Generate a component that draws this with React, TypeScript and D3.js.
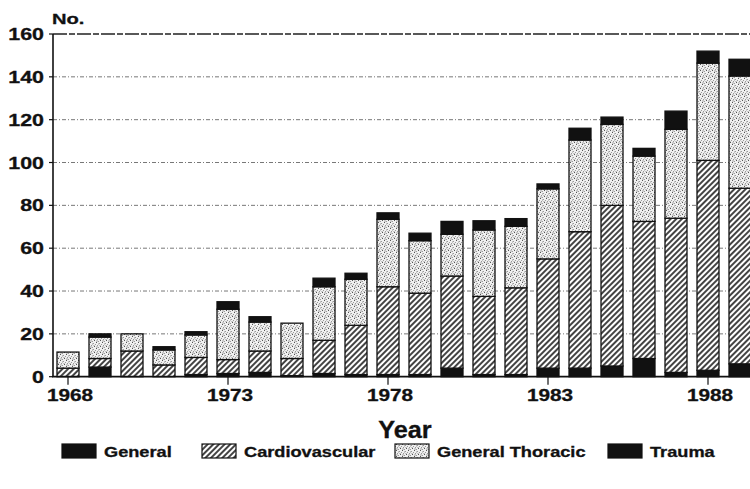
import * as d3 from "d3"

const years = d3.range(1968, 1990)
const general = [0, 4.5, 0, 0, 1, 1.5, 2, 0.5, 1.5, 1, 1, 1, 4, 1, 1, 4, 4, 5, 8.5, 2, 3, 6]
const cardiovascular = [4, 4, 12, 5.5, 8, 6.5, 10, 8, 15.5, 23, 41, 38, 43, 36.5, 40.5, 51, 63.7, 75, 64, 72, 98, 82]
const generalThoracic = [7.5, 10, 8, 7, 10.5, 23.5, 13.5, 16.5, 25, 21.5, 31.5, 24.5, 19.5, 31, 28.7, 32.7, 42.8, 37.8, 30.5, 41.5, 45.4, 52.4]
const trauma = [0, 1.5, 0, 1.5, 1.5, 3.5, 2.5, 0, 4, 2.8, 3, 3.5, 6, 4.3, 3.6, 2.3, 5.5, 3.4, 3.6, 8.5, 5.6, 7.8]
const seriesNames = ["General", "Cardiovascular", "General Thoracic", "Trauma"]
const yTicks = [0, 20, 40, 60, 80, 100, 120, 140, 160]
const xTickYears = [1968, 1973, 1978, 1983, 1988]

const W = 750
const H = 489
const FONT = "'Liberation Sans', Arial, Helvetica, sans-serif"
const STRETCH = 1.3

// fill per series, bottom to top
const fills = ["#111", "url(#hatch)", "url(#stipple)", "#111"]

// dot positions inside the 6x6 stipple tile
const stippleDots = [
  [0, 0], [3, 1], [1, 3], [4, 4], [5, 2], [2, 5], [0.5, 4.5], [3.5, 3], [2, 1.5],
]

export default function App() {
  const x = d3.scaleLinear().domain([1968, 1988]).range([68, 708])
  const y = d3.scaleLinear().domain([0, 160]).range([376.7, 34])
  const barW = 22

  const rows = years.map((yr, i) => ({
    year: yr,
    General: general[i],
    Cardiovascular: cardiovascular[i],
    "General Thoracic": generalThoracic[i],
    Trauma: trauma[i],
  }))
  const stacked = d3.stack<any>().keys(seriesNames)(rows)

  const legendX = [62, 202, 395, 608]

  // stretched bold text helper (the scanned type is wide)
  const label = (key: string, txt: string, tx: number, ty: number, size: number, anchor: string, sx = STRETCH) => (
    <text
      key={key}
      transform={`translate(${tx},${ty}) scale(${sx},1)`}
      textAnchor={anchor}
      fontSize={size}
      fontWeight="bold"
      fontFamily={FONT}
      fill="#111"
      stroke="#111"
      strokeWidth={0.3}
    >
      {txt}
    </text>
  )

  return (
    <div style={{ position: "absolute", left: 0, top: 0 }}>
      <svg width={W} height={H} style={{ display: "block", background: "#fff" }}>
        <defs>
          <pattern id="hatch" patternUnits="userSpaceOnUse" width="4" height="4" patternTransform="rotate(45)">
            <rect width="4" height="4" fill="#fff" />
            <line x1="1" y1="0" x2="1" y2="4" stroke="#222" strokeWidth="1.7" />
          </pattern>
          <pattern id="stipple" patternUnits="userSpaceOnUse" width="6" height="6">
            <rect width="6" height="6" fill="#f0f0f0" />
            {stippleDots.map(([dx, dy], k) => (
              <rect key={k} x={dx} y={dy} width="1" height="1" fill={k % 3 === 0 ? "#555" : "#999"} />
            ))}
          </pattern>
        </defs>

        {/* grid */}
        {yTicks.filter((t) => t > 0 && t < 160).map((t) => (
          <line key={"g" + t} x1={53} x2={W} y1={y(t)} y2={y(t)} stroke="#555" strokeWidth={0.8} strokeDasharray="4 2 1 2" />
        ))}
        <line x1={53} x2={W} y1={y(160)} y2={y(160)} stroke="#222" strokeWidth={1.4} strokeDasharray="14 2 6 2" />

        {/* bars */}
        {stacked.map((s, si) =>
          s.map((d, i) =>
            d[1] - d[0] > 0 ? (
              <rect
                key={si + "-" + i}
                x={x(years[i]) - barW / 2}
                y={y(d[1])}
                width={barW}
                height={y(d[0]) - y(d[1])}
                fill={fills[si]}
                stroke="#111"
                strokeWidth={1.3}
              />
            ) : null
          )
        )}

        {/* axes */}
        <line x1={53} x2={53} y1={y(160)} y2={y(0)} stroke="#111" strokeWidth={1.6} />
        <line x1={52} x2={W} y1={y(0)} y2={y(0)} stroke="#111" strokeWidth={1.8} />
        {yTicks.map((t) => (
          <line key={"yt" + t} x1={49} x2={53} y1={y(t)} y2={y(t)} stroke="#111" strokeWidth={1.2} />
        ))}
        {xTickYears.map((yr) => (
          <line key={"xt" + yr} x1={x(yr)} x2={x(yr)} y1={y(0)} y2={y(0) + 8} stroke="#111" strokeWidth={1.2} />
        ))}

        {yTicks.map((t) => label("yl" + t, String(t), 44, y(t) + 6, 16.5, "end"))}
        {xTickYears.map((yr) => label("xl" + yr, String(yr), x(yr) + 2, 401, 16, "middle"))}
        {label("yname", "No.", 52, 24, 15.5, "start")}
        {label("xname", "Year", 405, 438, 23, "middle", 1.1)}

        {/* legend */}
        {seriesNames.map((n, i) => (
          <g key={"lg" + n}>
            <rect x={legendX[i]} y={444} width={34} height={14} fill={fills[i]} stroke="#111" strokeWidth={1.2} />
            {label("lt" + n, n, legendX[i] + 42, 457, 14, "start")}
          </g>
        ))}
      </svg>
    </div>
  )
}
